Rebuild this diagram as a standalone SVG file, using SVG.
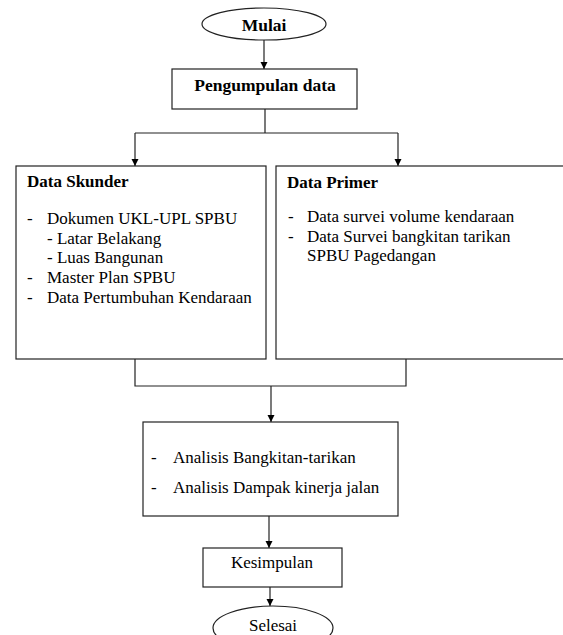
<svg xmlns="http://www.w3.org/2000/svg" width="563" height="635" viewBox="0 0 563 635">
<style>
.box{fill:#fff;stroke:#222;stroke-width:1.2}
.t{font-family:'Liberation Serif','DejaVu Serif',serif;font-size:17px;fill:#000}
.b{font-weight:bold}
.c{text-anchor:middle}
.lg{font-size:17.5px}
.ln{fill:none;stroke:#222;stroke-width:1.2}
</style>
<defs>
<marker id="ah" viewBox="0 0 10 10" refX="10" refY="5" markerWidth="7" markerHeight="8" markerUnits="userSpaceOnUse" orient="auto">
<path d="M0,0 L10,5 L0,10 z" fill="#000"/>
</marker>
</defs>
<rect width="563" height="635" fill="#fff"/>
<g id="connectors">
<path class="ln" d="M264,40 V69" marker-end="url(#ah)"/>
<path class="ln" d="M265,109 V133 M135,133 H398"/>
<path class="ln" d="M135,133 V166" marker-end="url(#ah)"/>
<path class="ln" d="M398,133 V166" marker-end="url(#ah)"/>
<path class="ln" d="M135,359 V386 H406 V359"/>
<path class="ln" d="M271,386 V422" marker-end="url(#ah)"/>
<path class="ln" d="M269,516 V548" marker-end="url(#ah)"/>
<path class="ln" d="M270,587 V606" marker-end="url(#ah)"/>
</g>
<g id="mulai">
<ellipse class="box" cx="264" cy="24" rx="62" ry="16"/>
<text class="t b c lg" x="264" y="31">Mulai</text>
</g>
<g id="pengumpulan">
<rect class="box" x="172" y="69" width="185" height="40"/>
<text class="t b c lg" x="265" y="91">Pengumpulan data</text>
</g>
<g id="skunder">
<rect class="box" x="16" y="166" width="250" height="193"/>
<text class="t b" x="27" y="187">Data Skunder</text>
<text class="t" x="27" y="224">-</text>
<text class="t" x="47" y="224">Dokumen UKL-UPL SPBU</text>
<text class="t" x="47" y="244">- Latar Belakang</text>
<text class="t" x="47" y="263">- Luas Bangunan</text>
<text class="t" x="27" y="283">-</text>
<text class="t" x="47" y="283">Master Plan SPBU</text>
<text class="t" x="27" y="303">-</text>
<text class="t" x="47" y="303">Data Pertumbuhan Kendaraan</text>
</g>
<g id="primer">
<rect class="box" x="276" y="166" width="300" height="193"/>
<text class="t b" x="287" y="188">Data Primer</text>
<text class="t" x="288" y="222">-</text>
<text class="t" x="307" y="222">Data survei volume kendaraan</text>
<text class="t" x="288" y="242">-</text>
<text class="t" x="307" y="242">Data Survei bangkitan tarikan</text>
<text class="t" x="307" y="261">SPBU Pagedangan</text>
</g>
<g id="analisis">
<rect class="box" x="143" y="422" width="255" height="94"/>
<text class="t" x="151" y="463">-</text>
<text class="t" x="173" y="463">Analisis Bangkitan-tarikan</text>
<text class="t" x="151" y="493">-</text>
<text class="t" x="173" y="493">Analisis Dampak kinerja jalan</text>
</g>
<g id="kesimpulan">
<rect class="box" x="203" y="548" width="139" height="39"/>
<text class="t c" x="272" y="568">Kesimpulan</text>
</g>
<g id="selesai">
<ellipse class="box" cx="273" cy="628" rx="60" ry="22"/>
<text class="t c" x="273" y="631">Selesai</text>
</g>
</svg>
